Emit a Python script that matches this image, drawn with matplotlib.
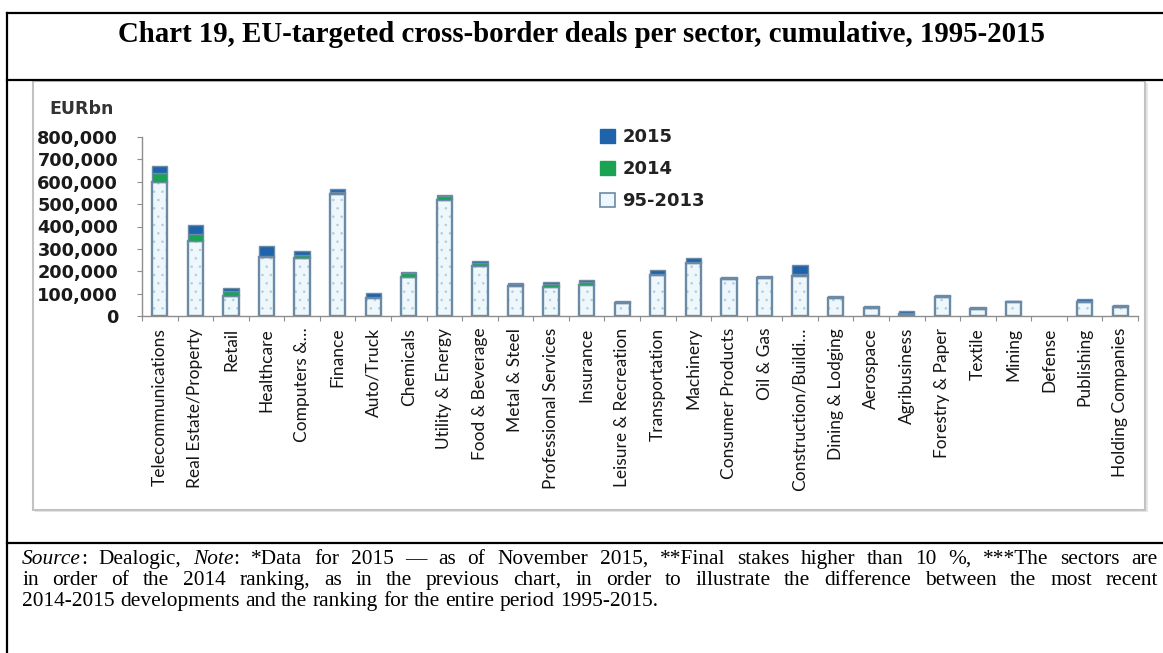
import matplotlib
matplotlib.use("Agg")
import matplotlib.pyplot as plt
from matplotlib.patches import Rectangle, Patch
from matplotlib.lines import Line2D
import numpy as np

# ---- data -------------------------------------------------------------
sectors = [
    "Telecommunications", "Real Estate/Property", "Retail", "Healthcare",
    "Computers &\u2026", "Finance", "Auto/Truck", "Chemicals",
    "Utility & Energy", "Food & Beverage", "Metal & Steel",
    "Professional Services", "Insurance", "Leisure & Recreation",
    "Transportation", "Machinery", "Consumer Products", "Oil & Gas",
    "Construction/Buildi\u2026", "Dining & Lodging", "Aerospace",
    "Agribusiness", "Forestry & Paper", "Textile", "Mining", "Defense",
    "Publishing", "Holding Companies",
]
deals_95_2013 = [600000, 336000, 90000, 264000, 260000, 544000, 79000,
                 175000, 517000, 223000, 134000, 131000, 140000, 56000,
                 183000, 238000, 165000, 169000, 180000, 79000, 34000,
                 8000, 86000, 30000, 62000, 0, 64000, 40000]
deals_2014 = [40000, 32000, 23000, 5000, 12000, 8000, 6000, 15000, 18000,
              12000, 7000, 13000, 13000, 6000, 6000, 5000, 5000, 5000,
              6000, 6000, 8000, 6000, 4000, 5000, 3000, 0, 5000, 4000]
deals_2015 = [30000, 38000, 14000, 43000, 19000, 17000, 18000, 8000, 5000,
              9000, 5000, 6000, 6000, 5000, 15000, 14000, 5000, 4000,
              40000, 4000, 4000, 7000, 4000, 4000, 3000, 0, 5000, 4000]
yticks = [0, 100000, 200000, 300000, 400000, 500000, 600000, 700000, 800000]
legend_labels = ["2015", "2014", "95-2013"]

title = "Chart 19, EU-targeted cross-border deals per sector, cumulative, 1995-2015"
note_lines = [
    [[("Source", "italic"), (":", "normal")], "Dealogic,",
     [("Note", "italic"), (":", "normal")], "*Data", "for", "2015", "\u2014",
     "as", "of", "November", "2015,", "**Final", "stakes", "higher", "than",
     "10", "%,", "***The", "sectors", "are"],
    "in order of the 2014 ranking, as in the previous chart, in order to "
    "illustrate the difference between the most recent".split(),
    "2014-2015 developments and the ranking for the entire period 1995-2015.".split(),
]

# ---- figure -----------------------------------------------------------
W, H = 1163, 653
fig = plt.figure(figsize=(W / 100, H / 100), dpi=100)
fig.patch.set_facecolor("white")


def fx(x):
    return x / W


def fy(y):
    return 1 - y / H


# page frame lines
line_kw = dict(color="black", lw=1.6, transform=fig.transFigure)
fig.add_artist(Line2D([fx(7), fx(7)], [fy(13), fy(653)], **line_kw))
fig.add_artist(Line2D([fx(7), fx(1163)], [fy(13), fy(13)], **line_kw))
fig.add_artist(Line2D([fx(7), fx(1163)], [fy(80), fy(80)], **line_kw))
fig.add_artist(Line2D([fx(7), fx(1163)], [fy(543), fy(543)], **line_kw))

fig.text(fx(581), fy(42), title, ha="center", va="baseline",
         fontsize=20.8, fontweight="bold", family="Liberation Serif")

# chart panel with soft shadow
fig.add_artist(Rectangle((fx(35), fy(512)), fx(1113), (510 - 81) / H,
                         transform=fig.transFigure, facecolor="#e6e6e6",
                         edgecolor="none", zorder=1))
fig.add_artist(Rectangle((fx(33), fy(510)), fx(1112), (510 - 81) / H,
                         transform=fig.transFigure, facecolor="white",
                         edgecolor="#c2c2c2", lw=1.5, zorder=1.1))

fig.text(fx(49), fy(109), "EURbn", ha="left", va="center", fontsize=12.5,
         fontweight="bold", family="DejaVu Sans", color="#333333", zorder=3)

# ---- bars -------------------------------------------------------------
ax = fig.add_axes([fx(142), fy(316), (1138 - 142) / W, (316 - 137) / H])
ax.set_zorder(2)
ax.patch.set_alpha(0)
x = np.arange(len(sectors))
base = np.array(deals_95_2013)
y14 = np.array(deals_2014)
y15 = np.array(deals_2015)
total = base + y14 + y15
bw = 0.43
edge = "#6b8aa6"
c15 = "#1f63ab"
c14 = "#1aa352"
outline_w = np.where(total > 0, 1.7, 0.0)
seg_w = np.where(total > 0, 1.0, 0.0)

plt.rcParams["hatch.linewidth"] = 0.6
ax.bar(x, base, bw, facecolor="#eef8fc", edgecolor="#b3cddd", hatch="..",
       linewidth=0)
ax.bar(x, base, bw, fill=False, edgecolor=edge, linewidth=outline_w)
ax.bar(x, y14, bw, bottom=base, color=c14, edgecolor=edge, linewidth=seg_w)
ax.bar(x, y15, bw, bottom=base + y14, color=c15, edgecolor=edge,
       linewidth=seg_w)

ax.set_xlim(-0.5, len(sectors) - 0.5)
ax.set_ylim(0, 800000)
ax.set_yticks(yticks)
ax.set_yticklabels([f"{v:,}" for v in yticks])
ax.set_xticks(x)
ax.set_xticklabels(sectors, rotation=90, va="top", ha="center")
ax.set_xticks(np.arange(len(sectors) + 1) - 0.5, minor=True)

for s in ("top", "right"):
    ax.spines[s].set_visible(False)
for s in ("left", "bottom"):
    ax.spines[s].set_color("#8e8e8e")
    ax.spines[s].set_linewidth(1.0)

ax.tick_params(axis="y", length=3.6, width=0.8, color="#8e8e8e", pad=13.5,
               labelsize=12.8, labelcolor="#1a1a1a")
for lab in ax.get_yticklabels():
    lab.set_fontweight("bold")
    lab.set_family("DejaVu Sans")
ax.tick_params(axis="x", which="major", length=0, pad=8.5, labelsize=12.5,
               labelcolor="#151515")
ax.tick_params(axis="x", which="minor", length=3.6, width=0.8,
               color="#8e8e8e")
for lab in ax.get_xticklabels():
    lab.set_family("Lato")

handles = [
    Patch(facecolor=c15, edgecolor=c15),
    Patch(facecolor=c14, edgecolor=c14),
    Patch(facecolor="#eef8fc", edgecolor=edge, lw=1.2),
]
fig.legend(handles, legend_labels, loc="upper left",
           bbox_to_anchor=(fx(600), fy(128)), frameon=False,
           borderpad=0, borderaxespad=0, handlelength=0.85,
           handleheight=0.85, handletextpad=0.4, labelspacing=0.78,
           prop=dict(family="DejaVu Sans", weight="bold", size=13))
for t in fig.legends[0].get_texts():
    t.set_color("#222222")

# ---- justified note text ----------------------------------------------
renderer = fig.canvas.get_renderer()
note_font = dict(family="Liberation Serif", fontsize=15.4, color="black")
left, right = 22, 1158
baselines = [564, 585, 606]


def word_parts(w):
    return w if isinstance(w, list) else [(w, "normal")]


def text_width(txt, st):
    t = fig.text(0, 0, txt, style=st, **note_font)
    wd = t.get_window_extent(renderer).width
    t.remove()
    return wd


space_w = text_width("a a", "normal") - text_width("aa", "normal")

for li, words in enumerate(note_lines):
    parts = [word_parts(w) for w in words]
    widths = [sum(text_width(txt, st) for txt, st in p) for p in parts]
    if li < 2:
        gap = (right - left - sum(widths)) / (len(parts) - 1)
    else:
        gap = space_w
    xpos = left
    for p, wd in zip(parts, widths):
        xx = xpos
        for txt, st in p:
            fig.text(fx(xx), fy(baselines[li]), txt, style=st,
                     ha="left", va="baseline", **note_font)
            xx += text_width(txt, st)
        xpos += wd + gap

fig.savefig("out.png", dpi=100, facecolor="white")
